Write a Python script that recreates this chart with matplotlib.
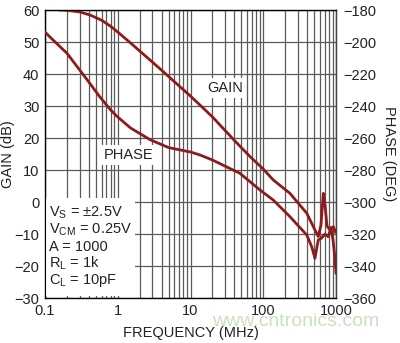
import matplotlib
matplotlib.use("Agg")
import matplotlib.pyplot as plt
from matplotlib.patches import Rectangle
from matplotlib.ticker import FixedLocator, FixedFormatter, LogLocator, NullFormatter

plt.rcParams['font.family'] = ['Liberation Sans Narrow', 'Liberation Sans', 'DejaVu Sans']
plt.rcParams['mathtext.fontset'] = 'custom'
plt.rcParams['mathtext.rm'] = 'Liberation Sans'
plt.rcParams['mathtext.default'] = 'regular'
plt.rcParams['axes.unicode_minus'] = True

# ---- data ----
gain_freq = [0.16, 0.2, 0.3, 0.42, 0.6, 0.8, 1.0, 1.5, 2.0, 2.77, 4, 6, 10, 13.5, 20,
             39.5, 65.8, 100, 137, 233, 396, 514, 571, 622, 669, 706, 752, 828, 919, 984]
gain_db = [60, 59.9, 59.4, 58.4, 56.8, 54.9, 53.1, 49.7, 47.2, 44.4, 41.2, 37.6, 33.1, 30.3, 26.6,
           19.4, 14.2, 10.3, 6.9, 2.7, -3.5, -8.75, -10.8, -7.2, 2.7, -0.9, -7.5, -8.75, -7.7, -9.4]

phase_freq = [0.1, 0.117, 0.2, 0.3, 0.4, 0.57, 0.8, 1.0, 1.5, 2.77, 5, 10, 13.5, 20, 47.9,
              90.2, 137, 233, 396, 463, 514, 538, 571, 635, 706, 783, 853, 910, 968, 1000]
phase_deg = [-193.75, -196.9, -207, -217.5, -225, -234.4, -242.5, -246.9, -253.75, -261, -266,
             -268.75, -270.6, -273.75, -282.1, -292.5, -298.75, -309.2, -320.6, -327.9, -335.2,
             -330, -323.75, -322.5, -320, -321.7, -316, -323.75, -335, -344.4]

x_ticks = [0.1, 1, 10, 100, 1000]
x_ticklabels = ['0.1', '1', '10', '100', '1000']
gain_ticks = list(range(-30, 61, 10))
phase_ticks = list(range(-360, -179, 20))

conditions = ['V$_S$ = ±2.5V', 'V$_{CM}$ = 0.25V', 'A = 1000', 'R$_L$ = 1k', 'C$_L$ = 10pF']

curve_color = '#8e1b1b'
grid_color = '#5a5a5a'

fig = plt.figure(figsize=(4.0, 3.43), dpi=100)
ax = fig.add_axes([45/400, 1-298/343, (336-45)/400, (298-10)/343])
ax.set_xscale('log')
ax.set_xlim(0.1, 1000)
ax.set_ylim(-30, 60)
ax.xaxis.set_major_locator(FixedLocator(x_ticks))
ax.xaxis.set_major_formatter(FixedFormatter(x_ticklabels))
ax.xaxis.set_minor_locator(LogLocator(base=10, subs=range(2, 10), numticks=20))
ax.xaxis.set_minor_formatter(NullFormatter())
ax.set_yticks(gain_ticks)
ax.grid(which='both', axis='x', color=grid_color, lw=0.9)
ax.grid(which='major', axis='y', color=grid_color, lw=0.9)
ax.set_axisbelow(True)
ax.tick_params(which='both', length=0, labelsize=10.5, pad=4, colors='#222222')
for s in ax.spines.values():
    s.set_color('#444444')
    s.set_linewidth(1.0)

ax.plot(gain_freq, gain_db, color=curve_color, lw=2.0, zorder=3)
ax.set_xlabel('FREQUENCY (MHz)', fontsize=10.5, labelpad=6, color='#222222')
ax.set_ylabel('GAIN (dB)', fontsize=10.5, color='#222222')
ax.yaxis.set_label_coords(-0.104, 0.5)

ax2 = ax.twinx()
ax2.set_ylim(-360, -180)
ax2.set_yticks(phase_ticks)
ax2.tick_params(length=0, labelsize=10.5, pad=5, colors='#222222')
ax2.spines['right'].set_color('#444444')
ax2.plot(phase_freq, phase_deg, color=curve_color, lw=2.0, zorder=3)
ax2.set_ylabel('PHASE (DEG)', fontsize=10.5, rotation=270, labelpad=14, color='#222222')

# white box behind conditions (covers grid)
ax2.add_patch(Rectangle((0.1003, -358.6), 1.6, 61.3, facecolor='white', edgecolor='none',
                        transform=ax2.transData, zorder=1))
for i, t in enumerate(conditions):
    ax2.text(0.113, -307 - i * 10.5, t, fontsize=10.5, va='center', ha='left',
             color='#222222', zorder=2)

ax2.text(30, -228.75, 'GAIN', fontsize=10.5, ha='center', va='center', color='#222222',
         bbox=dict(facecolor='white', edgecolor='none', pad=2), zorder=2)
ax2.text(1.43, -270.6, 'PHASE', fontsize=10.5, ha='center', va='center', color='#222222',
         bbox=dict(facecolor='white', edgecolor='none', pad=2), zorder=2)

fig.text(0.74, 0.062, 'www.cntronics.com', fontsize=14, color='#9cc98f', alpha=0.55,
         ha='center', va='center', family=['Liberation Sans', 'DejaVu Sans'])

fig.savefig('out.png', dpi=100)
